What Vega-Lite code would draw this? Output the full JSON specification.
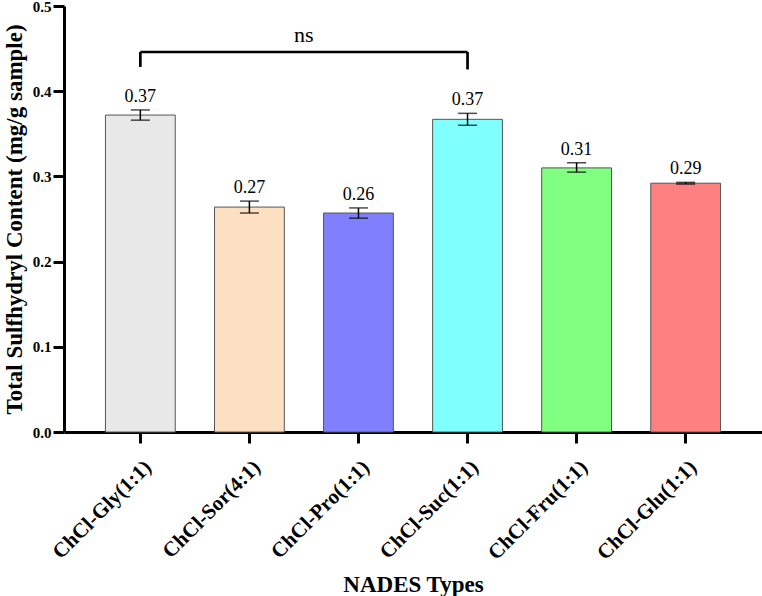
{
  "$schema": "https://vega.github.io/schema/vega-lite/v6.json",
  "width": 698,
  "height": 426,
  "autosize": {"type": "none"},
  "padding": {"left": 64, "top": 6, "right": 0, "bottom": 164},
  "background": "white",
  "config": {
    "view": {"stroke": null},
    "font": "Liberation Serif, Times New Roman, serif"
  },
  "datasets": {
    "bars": [
      {"type": "ChCl-Gly(1:1)", "mean": 0.372, "lo": 0.366, "hi": 0.378, "label": "0.37"},
      {"type": "ChCl-Sor(4:1)", "mean": 0.264, "lo": 0.257, "hi": 0.271, "label": "0.27"},
      {"type": "ChCl-Pro(1:1)", "mean": 0.257, "lo": 0.251, "hi": 0.263, "label": "0.26"},
      {"type": "ChCl-Suc(1:1)", "mean": 0.367, "lo": 0.360, "hi": 0.374, "label": "0.37"},
      {"type": "ChCl-Fru(1:1)", "mean": 0.310, "lo": 0.305, "hi": 0.316, "label": "0.31"},
      {"type": "ChCl-Glu(1:1)", "mean": 0.292, "lo": 0.291, "hi": 0.293, "label": "0.29"}
    ],
    "bracketH": [
      {"a": "ChCl-Gly(1:1)", "b": "ChCl-Suc(1:1)", "y": 0.446}
    ],
    "bracketV": [
      {"type": "ChCl-Gly(1:1)", "y1": 0.4285, "y2": 0.446},
      {"type": "ChCl-Suc(1:1)", "y1": 0.4255, "y2": 0.446}
    ],
    "sig": [
      {"a": "ChCl-Gly(1:1)", "y": 0.466, "text": "ns"}
    ]
  },
  "layer": [
    {
      "data": {"name": "bars"},
      "mark": {"type": "bar", "stroke": "#555555", "strokeWidth": 1},
      "encoding": {
        "x": {
          "field": "type", "type": "nominal", "sort": null,
          "scale": {"paddingInner": 0.36, "paddingOuter": 0.38},
          "axis": {
            "title": "NADES Types",
            "titleFont": "Liberation Serif, Times New Roman, serif", "titleFontSize": 23, "titleFontWeight": "bold", "titleColor": "black",
            "titlePadding": 10,
            "labelAngle": -45, "labelFont": "Liberation Serif, Times New Roman, serif", "labelFontSize": 21, "labelFontWeight": "bold", "labelColor": "black",
            "labelPadding": 13,
            "domainColor": "black", "domainWidth": 3,
            "tickColor": "black", "tickWidth": 3, "tickSize": 11
          }
        },
        "y": {
          "field": "mean", "type": "quantitative",
          "scale": {"domain": [0, 0.5], "nice": false},
          "axis": {
            "title": "Total Sulfhydryl Content (mg/g sample)",
            "titleFont": "Liberation Serif, Times New Roman, serif", "titleFontSize": 23, "titleFontWeight": "bold", "titleColor": "black",
            "titlePadding": 6,
            "values": [0, 0.1, 0.2, 0.3, 0.4, 0.5], "format": ".1f",
            "labelFont": "Liberation Serif, Times New Roman, serif", "labelFontSize": 15, "labelFontWeight": "bold", "labelColor": "black",
            "labelPadding": 2,
            "domainColor": "black", "domainWidth": 3,
            "tickColor": "black", "tickWidth": 3, "tickSize": 11,
            "grid": false
          }
        },
        "color": {
          "field": "type", "type": "nominal", "sort": null, "legend": null,
          "scale": {
            "domain": ["ChCl-Gly(1:1)", "ChCl-Sor(4:1)", "ChCl-Pro(1:1)", "ChCl-Suc(1:1)", "ChCl-Fru(1:1)", "ChCl-Glu(1:1)"],
            "range": ["#e8e8e8", "#fde0c2", "#8080ff", "#80ffff", "#80ff80", "#ff8080"]
          }
        }
      }
    },
    {
      "data": {"name": "bars"},
      "mark": {"type": "rule", "color": "black", "strokeWidth": 1.5},
      "encoding": {
        "x": {"field": "type", "type": "nominal", "sort": null},
        "y": {"field": "lo", "type": "quantitative"},
        "y2": {"field": "hi"}
      }
    },
    {
      "data": {"name": "bars"},
      "mark": {"type": "tick", "color": "black", "thickness": 1.5, "size": 19, "orient": "horizontal"},
      "encoding": {
        "x": {"field": "type", "type": "nominal", "sort": null},
        "y": {"field": "lo", "type": "quantitative"}
      }
    },
    {
      "data": {"name": "bars"},
      "mark": {"type": "tick", "color": "black", "thickness": 1.5, "size": 19, "orient": "horizontal"},
      "encoding": {
        "x": {"field": "type", "type": "nominal", "sort": null},
        "y": {"field": "hi", "type": "quantitative"}
      }
    },
    {
      "data": {"name": "bars"},
      "mark": {"type": "text", "font": "Liberation Serif, Times New Roman, serif", "fontSize": 18, "color": "black", "baseline": "alphabetic", "dy": -8},
      "encoding": {
        "x": {"field": "type", "type": "nominal", "sort": null},
        "y": {"field": "hi", "type": "quantitative"},
        "text": {"field": "label"}
      }
    },
    {
      "data": {"name": "bracketH"},
      "mark": {"type": "rule", "color": "black", "strokeWidth": 2.7},
      "encoding": {
        "x": {"field": "a", "type": "nominal", "sort": null},
        "x2": {"field": "b"},
        "y": {"field": "y", "type": "quantitative"}
      }
    },
    {
      "data": {"name": "bracketV"},
      "mark": {"type": "rule", "color": "black", "strokeWidth": 2.7},
      "encoding": {
        "x": {"field": "type", "type": "nominal", "sort": null},
        "y": {"field": "y1", "type": "quantitative"},
        "y2": {"field": "y2"}
      }
    },
    {
      "data": {"name": "sig"},
      "mark": {"type": "text", "font": "Liberation Serif, Times New Roman, serif", "fontSize": 22, "color": "black", "baseline": "middle", "dx": 163.5},
      "encoding": {
        "x": {"field": "a", "type": "nominal", "sort": null},
        "y": {"field": "y", "type": "quantitative"},
        "text": {"field": "text"}
      }
    }
  ]
}
